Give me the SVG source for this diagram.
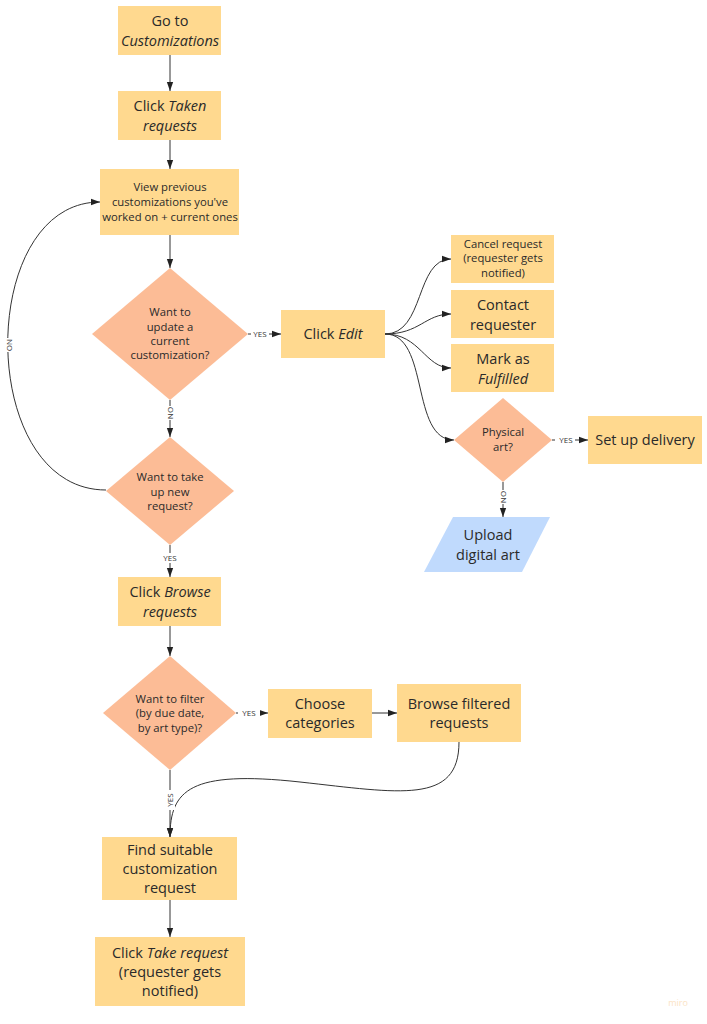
<svg xmlns="http://www.w3.org/2000/svg" width="707" height="1024" viewBox="0 0 707 1024">
<style>
.box{fill:#FFD98F}
.dia{fill:#FCBC96}
.io{fill:#C0DAFD}
text{font-family:"Open Sans","Liberation Sans",sans-serif;fill:#2a2a2a;text-anchor:middle}
.t14{font-size:14.5px}
.t11{font-size:11.3px}
.i{font-style:italic}
.c{fill:none;stroke:#333;stroke-width:1}
.lbl{font-size:8px;fill:#333}
.bg{fill:#fff}
</style>
<defs>
<marker id="ah" viewBox="0 0 10 10" refX="10" refY="5" markerWidth="9" markerHeight="9" markerUnits="userSpaceOnUse" orient="auto">
<path d="M0,1.5 L10,5 L0,8.5 Z" fill="#222"/>
</marker>
</defs>
<rect width="707" height="1024" fill="#fff"/>

<g id="connectors">
<path class="c" d="M170,55 V91" marker-end="url(#ah)"/>
<path class="c" d="M170,140 V169" marker-end="url(#ah)"/>
<path class="c" d="M170,235 V268" marker-end="url(#ah)"/>
<path class="c" d="M170,400 V437" marker-end="url(#ah)"/>
<path class="c" d="M106,490 C-24,490 -24,202 100,202" marker-end="url(#ah)"/>
<path class="c" d="M170,545 V577" marker-end="url(#ah)"/>
<path class="c" d="M170,626 V656" marker-end="url(#ah)"/>
<path class="c" d="M248,334 H281" marker-end="url(#ah)"/>
<path class="c" d="M385,334 C425,334 415,259 451,259" marker-end="url(#ah)"/>
<path class="c" d="M385,334 C420,334 425,314 451,314" marker-end="url(#ah)"/>
<path class="c" d="M385,334 C420,334 425,368 451,368" marker-end="url(#ah)"/>
<path class="c" d="M385,334 C430,334 410,440 454,440" marker-end="url(#ah)"/>
<path class="c" d="M552,440 H588" marker-end="url(#ah)"/>
<path class="c" d="M503,482 V517" marker-end="url(#ah)"/>
<path class="c" d="M236,713 H268" marker-end="url(#ah)"/>
<path class="c" d="M372,713 H397" marker-end="url(#ah)"/>
<path class="c" d="M170,770 V837" marker-end="url(#ah)"/>
<path class="c" d="M459,742 C459,805 400,793 300,782 C190,770 170,790 170,837" marker-end="url(#ah)"/>
<path class="c" d="M170,900 V937" marker-end="url(#ah)"/>
<rect class="bg" x="251" y="330" width="18" height="9"/>
<text class="lbl" x="260" y="337">YES</text>
<rect class="bg" x="555" y="436" width="20" height="9"/>
<text class="lbl" x="566" y="443">YES</text>
<rect class="bg" x="238" y="709" width="22" height="9"/>
<text class="lbl" x="249" y="716">YES</text>
<rect class="bg" x="160" y="553" width="20" height="10"/>
<text class="lbl" x="170" y="561">YES</text>
<rect class="bg" x="165" y="406" width="10" height="14"/>
<text class="lbl" transform="translate(173,413) rotate(-90)">NO</text>
<rect class="bg" x="498" y="490" width="10" height="14"/>
<text class="lbl" transform="translate(506,497) rotate(-90)">NO</text>
<rect class="bg" x="5" y="338" width="10" height="14"/>
<text class="lbl" transform="translate(7,345) rotate(90)">NO</text>
<rect class="bg" x="165" y="790" width="10" height="20"/>
<text class="lbl" transform="translate(173,800) rotate(-90)">YES</text>
</g>

<g id="n1"><rect class="box" x="118" y="6" width="103" height="49"/>
<text class="t14" x="170" y="26">Go to</text><text class="t14 i" x="170" y="46">Customizations</text></g>
<g id="n2"><rect class="box" x="118" y="91" width="103" height="49"/>
<text class="t14" x="170" y="111">Click <tspan class="i">Taken</tspan></text><text class="t14 i" x="170" y="131">requests</text></g>
<g id="n3"><rect class="box" x="100" y="169" width="139" height="66"/>
<text class="t11" x="170" y="191">View previous</text><text class="t11" x="170" y="206">customizations you've</text><text class="t11" x="170" y="221">worked on + current ones</text></g>
<g id="n4"><polygon class="dia" points="170,268 248,334 170,400 92,334"/>
<text class="t11" x="170" y="316">Want to</text><text class="t11" x="170" y="331">update a</text><text class="t11" x="170" y="345">current</text><text class="t11" x="170" y="359">customization?</text></g>
<g id="n5"><polygon class="dia" points="170,437 234,491 170,545 106,491"/>
<text class="t11" x="170" y="481">Want to take</text><text class="t11" x="170" y="496">up new</text><text class="t11" x="170" y="510">request?</text></g>
<g id="n6"><rect class="box" x="118" y="577" width="103" height="49"/>
<text class="t14" x="170" y="597">Click <tspan class="i">Browse</tspan></text><text class="t14 i" x="170" y="617">requests</text></g>
<g id="n7"><polygon class="dia" points="170,656 236,713 170,770 103,713"/>
<text class="t11" x="170" y="703">Want to filter</text><text class="t11" x="170" y="717">(by due date,</text><text class="t11" x="170" y="732">by art type)?</text></g>
<g id="n8"><rect class="box" x="268" y="689" width="104" height="49"/>
<text class="t14" x="320" y="709">Choose</text><text class="t14" x="320" y="728">categories</text></g>
<g id="n9"><rect class="box" x="397" y="684" width="124" height="58"/>
<text class="t14" x="459" y="709">Browse filtered</text><text class="t14" x="459" y="728">requests</text></g>
<g id="n10"><rect class="box" x="102" y="837" width="135" height="63"/>
<text class="t14" x="170" y="855">Find suitable</text><text class="t14" x="170" y="874">customization</text><text class="t14" x="170" y="893">request</text></g>
<g id="n11"><rect class="box" x="95" y="937" width="150" height="69"/>
<text class="t14" x="170" y="958">Click <tspan class="i">Take request</tspan></text><text class="t14" x="170" y="977">(requester gets</text><text class="t14" x="170" y="996">notified)</text></g>
<g id="n12"><rect class="box" x="281" y="310" width="104" height="48"/>
<text class="t14" x="333" y="339">Click <tspan class="i">Edit</tspan></text></g>
<g id="n13"><rect class="box" x="451" y="235" width="103" height="48"/>
<text class="t11" x="503" y="248">Cancel request</text><text class="t11" x="503" y="262">(requester gets</text><text class="t11" x="503" y="277">notified)</text></g>
<g id="n14"><rect class="box" x="451" y="290" width="103" height="48"/>
<text class="t14" x="503" y="310">Contact</text><text class="t14" x="503" y="330">requester</text></g>
<g id="n15"><rect class="box" x="451" y="344" width="103" height="48"/>
<text class="t14" x="503" y="364">Mark as</text><text class="t14 i" x="503" y="384">Fulfilled</text></g>
<g id="n16"><polygon class="dia" points="503,398 552,440 503,482 454,440"/>
<text class="t11" x="503" y="436">Physical</text><text class="t11" x="503" y="451">art?</text></g>
<g id="n17"><rect class="box" x="588" y="416" width="114" height="48"/>
<text class="t14" x="645" y="445">Set up delivery</text></g>
<g id="n18"><polygon class="io" points="453,517 550,517 522,572 424,572"/>
<text class="t14" x="488" y="540">Upload</text><text class="t14" x="488" y="560">digital art</text></g>
<text x="678" y="1006" style="font-size:9px;fill:#FBE3C4">miro</text>
</svg>
